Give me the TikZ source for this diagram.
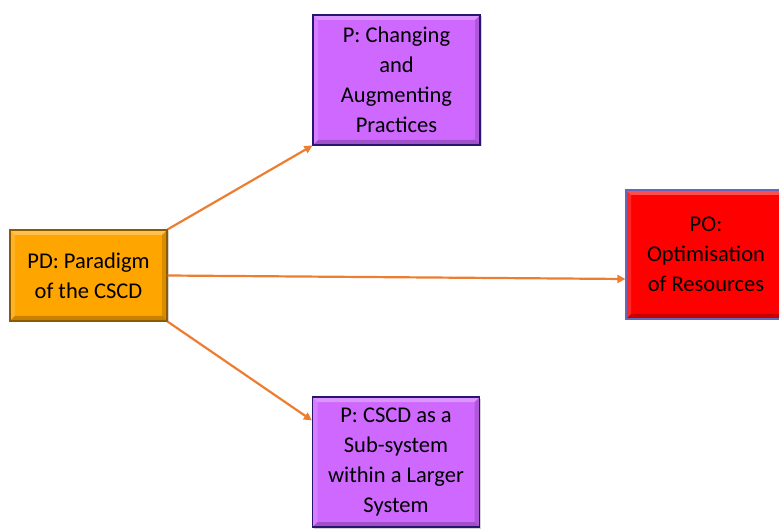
\documentclass[tikz,border=0pt]{standalone}
\usepackage{fontspec}
\setmainfont{Carlito}
\usetikzlibrary{arrows.meta,calc,shadows}
\definecolor{pdorange}{RGB}{255,165,0}
\definecolor{ppurple}{RGB}{206,104,255}
\definecolor{pored}{RGB}{255,0,0}
\definecolor{linkorange}{RGB}{237,125,49}
\tikzset{
  x=1pt, y=1pt,
  % soft bevel: light top and left edges, dark bottom and right edges
  bevel/.style={path picture={
    \coordinate (nw) at (path picture bounding box.north west);
    \coordinate (ne) at (path picture bounding box.north east);
    \coordinate (sw) at (path picture bounding box.south west);
    \coordinate (se) at (path picture bounding box.south east);
    \fill[white,opacity=0.30] (nw) -- (ne) -- ($(ne)+(-5,-5)$) -- ($(nw)+(5,-5)$) -- cycle;
    \fill[white,opacity=0.15] (nw) -- (sw) -- ($(sw)+(5,5)$) -- ($(nw)+(5,-5)$) -- cycle;
    \fill[black,opacity=0.22] (sw) -- (se) -- ($(se)+(-5,5)$) -- ($(sw)+(5,5)$) -- cycle;
    \fill[black,opacity=0.15] (ne) -- (se) -- ($(se)+(-5,5)$) -- ($(ne)+(-5,-5)$) -- cycle;
  }},
  box/.style={rectangle, align=center, inner sep=0pt, line width=1.2pt,
    font=\fontsize{22.5}{30}\selectfont, text=black, bevel,
    drop shadow={shadow xshift=1.5pt, shadow yshift=-1.5pt, opacity=0.35}},
  pdbox/.style={box, fill=pdorange, draw=pdorange!55!black,
    minimum width=157pt, minimum height=91pt},
  pbox/.style={box, fill=ppurple, draw=black!70!blue!80!ppurple,
    minimum width=167pt, minimum height=130pt},
  pobox/.style={box, fill=pored, draw=black!45!blue!60!white,
    minimum width=160pt, minimum height=129pt},
  link/.style={draw=linkorange, line width=2.2pt,
    -{Triangle[length=8pt,width=8pt]}}
}
\begin{document}
\begin{tikzpicture}
\useasboundingbox (0,0) rectangle (779,528);
\clip (0,0) rectangle (779,528);

% paradigm node and the three targets
\node[pdbox] (pd) at (88.5,252.5) {PD: Paradigm\\of the CSCD};
\node[pbox] (pa) at (396.5,448) {P: Changing\\and\\Augmenting\\Practices};
\node[pbox] (pb) at (396,66) {P: CSCD as a\\Sub-system\\within a Larger\\System};
\node[pobox] (po) at (706,273.5) {PO:\\Optimisation\\of Resources};

% connector end points on the target sides
\coordinate (poin) at ($(po.west)+(0,-24.5)$);
\coordinate (pbin) at ($(pb.north west)+(0,-24)$);

\draw[link] (pd.north east) -- (pa.south west);
\draw[link] (pd.east) -- (poin);
\draw[link] (pd.south east) -- (pbin);
\end{tikzpicture}
\end{document}
